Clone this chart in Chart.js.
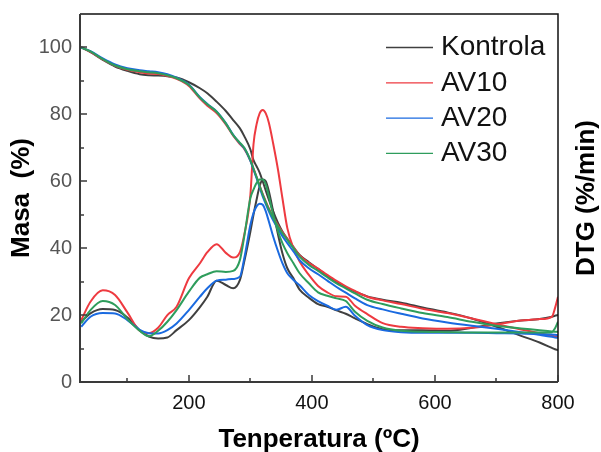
<!DOCTYPE html>
<html>
<head>
<meta charset="utf-8">
<script src="https://cdn.jsdelivr.net/npm/chart.js@4.4.1/dist/chart.umd.min.js"></script>
<style>
  html, body { margin: 0; padding: 0; background: #fff; }
  canvas { display: block; }
</style>
</head>
<body>
<canvas id="tga" width="601" height="452"></canvas>
<script>
// temperature (ºC) sample points shared by all curves
const temps = [25, 40, 60, 80, 100, 120, 135, 150, 165, 180, 200, 218, 230, 245, 260, 272, 283, 290, 300, 305,
  310, 315, 320, 325, 330, 337, 345, 352, 360, 370, 380, 395, 410, 425, 440, 455, 470, 490, 515, 545,
  580, 620, 660, 700, 740, 770, 790, 795, 800];

const labels = ['Kontrola', 'AV10', 'AV20', 'AV30'];
const colors = ['#404040', '#ee3a40', '#1a6ae0', '#2e9d5c'];

// mass (%) - TG curves
const tgKontrola = [100, 98.6, 96.3, 94.3, 93, 92, 91.7, 91.6, 91.4, 91, 89.6, 87.8, 86.3, 83.8, 81, 78.3, 75.8, 73.5, 69.5, 66.3,
  64.5, 62.6, 60, 57.2, 54.5, 51, 47.5, 45, 42.8, 40.3, 38, 35.8, 33.8, 31.7, 29.9, 28.3, 27, 25.6, 24.6, 23.7,
  22.3, 20.8, 19, 16.5, 13.8, 11.8, 10.2, 9.8, 9.5];
const tgAV10 = [100, 98.7, 96.4, 94.5, 93.3, 92.6, 92.2, 92.1, 91.5, 90.6, 88.5, 84.7, 82.6, 80.4, 77, 73.6, 71.1, 69.7, 66.2, 63.8,
  61.3, 58.7, 56.2, 54, 51.9, 49.3, 46.8, 44.8, 42.8, 40.3, 37.8, 35.6, 33.9, 32, 30.2, 28.6, 27.2, 25.5, 24.4, 23.3,
  21.9, 20.6, 19, 17.3, 15.7, 14.6, 13.8, 13.6, 13.5];
const tgAV20 = [100, 98.9, 96.7, 94.9, 93.8, 93.2, 92.9, 92.6, 92, 91, 88.9, 85.1, 83.1, 80.9, 77.4, 73.9, 71.3, 69.9, 66.1, 63.5,
  60.9, 58.2, 55.5, 53.2, 51, 48.3, 45.7, 43.6, 41.5, 39, 36.4, 34, 32.2, 30.3, 28.4, 26.7, 25, 23, 21.7, 20.4,
  19, 17.8, 16.8, 15.9, 14.9, 14.1, 13.5, 13.3, 13.2];
const tgAV30 = [100, 98.8, 96.5, 94.6, 93.5, 92.9, 92.6, 92.3, 91.7, 90.8, 88.8, 85, 83, 80.8, 77.3, 73.8, 71.5, 70, 66.3, 63.8,
  61.3, 58.6, 56, 53.8, 51.6, 49, 46.5, 44.5, 42.5, 40, 37.5, 35, 33.2, 31.3, 29.5, 28, 26.5, 24.6, 23.3, 22,
  20.6, 19.4, 18, 16.8, 16, 15.5, 15.1, 15, 15];

// DTG (%/min) curves, drawn on the right axis
const dtgKontrola = [18, 20.5, 21.8, 21.5, 19.3, 15.5, 13.6, 13, 13.3, 15.5, 18.5, 22.4, 25.5, 30.3, 29, 28, 30.5, 36, 45, 50,
  54.5, 58.5, 60.5, 60, 57, 51, 44, 38.5, 34, 31, 27.6, 25.2, 23.3, 22.5, 21.4, 20.4, 19, 17.3, 15.8, 15.5,
  15.5, 15.3, 16.2, 17.5, 18.4, 18.8, 19.5, 19.8, 20];
const dtgAV10 = [18.5, 24, 27.4, 26, 20.8, 15.3, 14.6, 16.2, 20, 22.5, 31, 35.5, 38.8, 41.2, 38.6, 37.2, 38.8, 44, 56, 71,
  77, 80.3, 81.3, 80.3, 77.5, 71.3, 63.3, 55, 46, 40, 36, 32, 28.7, 26.8, 25.6, 25.5, 22.8, 20.3, 17.6, 16.5,
  16.1, 15.9, 16.2, 17.2, 18.4, 18.8, 19.5, 22, 25.5];
const dtgAV20 = [16.5, 19.5, 20.6, 20.5, 18.5, 15.6, 14.6, 14.5, 15.5, 17.5, 21.5, 25.5, 28, 30.3, 30.6, 30.8, 31.5, 37, 47, 50.5,
  52.5, 53.3, 53, 51, 48, 43.5, 39, 35.5, 32.5, 30.5, 28.9, 26, 24.2, 22.8, 21.6, 22.5, 19.8, 17, 15.5, 14.9,
  14.7, 14.7, 14.7, 14.6, 14.5, 14.3, 14.2, 14.1, 14];
const dtgAV30 = [17.5, 21.5, 24.2, 23, 18.8, 15.3, 13.7, 15.3, 18, 21.5, 27, 31.2, 32.2, 33.1, 32.9, 33.2, 36.5, 43.5, 55, 57.5,
  59.5, 60.5, 60.5, 59, 55.5, 50, 45, 41.5, 38.5, 35.5, 32.5, 29.5, 26.8, 25.8, 25, 24.2, 21, 18.3, 16.3, 15.3,
  15, 14.9, 14.8, 14.8, 14.8, 14.8, 14.9, 16, 18];

const yTicks = [0, 20, 40, 60, 80, 100];
const xTicks = [200, 400, 600, 800];

const tgSeries = [tgKontrola, tgAV10, tgAV20, tgAV30];
const dtgSeries = [dtgKontrola, dtgAV10, dtgAV20, dtgAV30];
const drawOrder = [3, 2, 1, 0];

const toPoints = vals => temps.map((t, i) => ({ x: t, y: vals[i] }));

const datasets = [];
labels.forEach((name, i) => {
  datasets.push({ label: name, data: toPoints(tgSeries[i]), yAxisID: 'y',
    borderColor: colors[i], borderWidth: 2, order: drawOrder[i] });
});
labels.forEach((name, i) => {
  datasets.push({ label: name + ' DTG', data: toPoints(dtgSeries[i]), yAxisID: 'y2',
    borderColor: colors[i], borderWidth: 2, order: drawOrder[i] });
});

const FONT = "'Liberation Sans', Arial, sans-serif";

// frame with inward ticks, right title and legend
const decorations = {
  id: 'decorations',
  afterDraw(chart) {
    const ctx = chart.ctx;
    const { left, right, top, bottom } = chart.chartArea;
    const xs = chart.scales.x, ys = chart.scales.y;
    ctx.save();
    ctx.lineCap = 'butt';

    ctx.strokeStyle = '#111';
    ctx.lineWidth = 1.5;
    ctx.beginPath();
    ctx.moveTo(left, top); ctx.lineTo(right, top); ctx.lineTo(right, bottom);
    ctx.stroke();

    ctx.strokeStyle = '#3a3a3a';
    ctx.lineWidth = 2;
    ctx.beginPath();
    ctx.moveTo(left, top); ctx.lineTo(left, bottom); ctx.lineTo(right, bottom);
    ctx.stroke();

    ctx.lineWidth = 1.5;
    ctx.beginPath();
    for (let v = 100; v <= 800; v += 100) {
      const px = Math.round(xs.getPixelForValue(v));
      const len = v % 200 === 0 ? 7 : 4;
      ctx.moveTo(px, bottom); ctx.lineTo(px, bottom - len);
    }
    for (let v = 0; v <= 100; v += 10) {
      const py = Math.round(ys.getPixelForValue(v));
      const len = v % 20 === 0 ? 7 : 4;
      ctx.moveTo(left, py); ctx.lineTo(left + len, py);
    }
    ctx.stroke();

    // right axis title, reading upwards
    ctx.save();
    ctx.translate(587, (top + bottom) / 2);
    ctx.rotate(-Math.PI / 2);
    ctx.font = 'bold 26px ' + FONT;
    ctx.fillStyle = '#000';
    ctx.textAlign = 'center';
    ctx.textBaseline = 'middle';
    ctx.fillText('DTG (%/min)', 0, 0);
    ctx.restore();

    // legend
    ctx.font = '28px ' + FONT;
    ctx.textBaseline = 'middle';
    ctx.textAlign = 'left';
    chart.data.datasets.filter(d => d.yAxisID === 'y').forEach((d, i) => {
      const y = 47.5 + i * 35.3;
      ctx.strokeStyle = d.borderColor;
      ctx.lineWidth = 1.3;
      ctx.beginPath();
      ctx.moveTo(386, y); ctx.lineTo(433, y);
      ctx.stroke();
      ctx.fillStyle = '#111';
      ctx.fillText(d.label, 441, y);
    });
    ctx.restore();
  }
};

const noPad = s => { s.paddingTop = 0; s.paddingBottom = 0; };

new Chart(document.getElementById('tga'), {
  type: 'line',
  data: { datasets: datasets },
  options: {
    responsive: false,
    animation: false,
    devicePixelRatio: 1,
    layout: { padding: { top: 14, left: 0, right: 0, bottom: 0 } },
    elements: {
      point: { radius: 0 },
      line: { cubicInterpolationMode: 'monotone', fill: false }
    },
    plugins: {
      legend: { display: false },
      tooltip: { enabled: false }
    },
    scales: {
      x: {
        type: 'linear',
        min: 23,
        max: 800,
        afterBuildTicks: s => { s.ticks = xTicks.map(v => ({ value: v })); },
        afterFit: s => { s.height = 70; },
        grid: { display: false, drawTicks: false },
        border: { display: false },
        ticks: { color: '#111', padding: 9, font: { family: FONT, size: 20 } },
        title: { display: true, text: 'Tenperatura (ºC)', color: '#000', padding: { top: 0, bottom: -3 },
          font: { family: FONT, size: 26, weight: 'bold' } }
      },
      y: {
        position: 'left',
        min: 0,
        max: 110,
        afterBuildTicks: s => { s.ticks = yTicks.map(v => ({ value: v })); },
        afterFit: s => { s.width = 80; noPad(s); },
        grid: { display: false, drawTicks: false },
        border: { display: false },
        ticks: { color: '#555', padding: 8, font: { family: FONT, size: 20 } },
        title: { display: true, text: 'Masa  (%)', color: '#000', padding: { top: 6, bottom: 0 },
          font: { family: FONT, size: 26, weight: 'bold' } }
      },
      y2: {
        position: 'right',
        min: 0,
        max: 110,
        afterFit: s => { s.width = 43; noPad(s); },
        grid: { display: false, drawTicks: false },
        border: { display: false },
        ticks: { display: false }
      }
    }
  },
  plugins: [decorations]
});
</script>
</body>
</html>
